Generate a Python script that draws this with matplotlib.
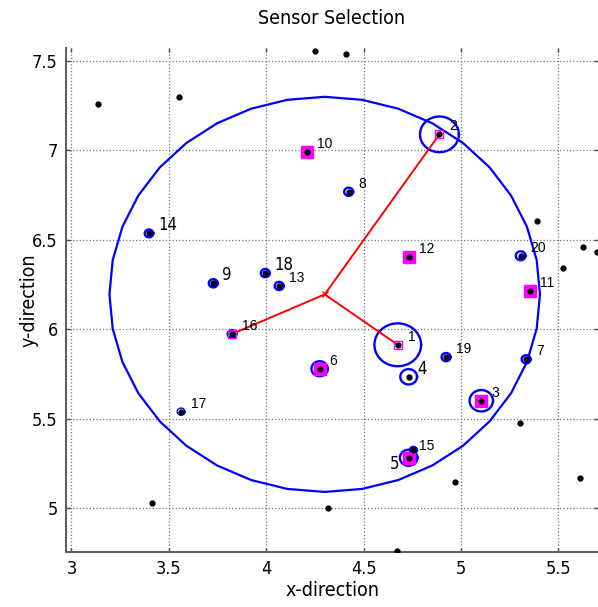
import numpy as np
import matplotlib
matplotlib.use("Agg")
import matplotlib.pyplot as plt
from matplotlib import font_manager

# ---------------- data ----------------
sensor_ids = [str(i) for i in range(1, 21)]
sensor_x = [4.675, 4.889, 5.104, 4.731, 4.731, 4.274, 5.334, 4.423, 3.728, 4.211,
            5.356, 4.731, 4.066, 3.398, 4.755, 3.824, 3.563, 3.995, 4.923, 5.306]
sensor_y = [5.913, 7.090, 5.600, 5.734, 5.281, 5.779, 5.832, 6.769, 6.257, 6.993,
            6.215, 6.404, 6.242, 6.536, 5.324, 5.973, 5.539, 6.314, 5.844, 6.411]
sensor_r = [0.120, 0.100, 0.060, 0.043, 0.045, 0.042, 0.023, 0.023, 0.023, 0.020,
            0.020, 0.020, 0.023, 0.022, 0.018, 0.022, 0.020, 0.023, 0.023, 0.025]
filled_sel = ['3', '5', '6', '10', '11', '12']
linked_sel = ['1', '2', '16']

extra_x = [3.137, 3.552, 4.250, 4.411, 5.390, 5.628, 5.524, 5.700, 5.301, 4.969, 5.612, 4.673, 3.414, 4.316]
extra_y = [7.258, 7.299, 7.558, 7.537, 6.603, 6.458, 6.344, 6.430, 5.475, 5.145, 5.168, 4.761, 5.028, 5.000]

center_x, center_y, center_r = 4.300, 6.195, 1.105

x_ticks = [3, 3.5, 4, 4.5, 5, 5.5]
x_ticklabels = ['3', '3.5', '4', '4.5', '5', '5.5']
y_ticks = [5, 5.5, 6, 6.5, 7, 7.5]
y_ticklabels = ['5', '5.5', '6', '6.5', '7', '7.5']

# --------------- fonts ----------------
avail = {f.name for f in font_manager.fontManager.ttflist}
if 'Liberation Sans Narrow' in avail:
    NARROW = dict(family='Liberation Sans Narrow')
else:
    NARROW = dict(family='DejaVu Sans', stretch='condensed')
PLAIN = dict(family=['Liberation Sans', 'DejaVu Sans'])

fig = plt.figure(figsize=(5.98, 6.07), dpi=100)
ax = fig.add_axes([66 / 598, 55 / 607, 1 - 66 / 598, (552 - 48) / 607])
ax.set_xlim(2.972, 5.703)
ax.set_ylim(4.754, 7.573)

t = np.linspace(0, 2 * np.pi, 37)

def ring(cx, cy, r, **kw):
    ax.plot(cx + r * np.cos(t), cy + r * np.sin(t), **kw)

# big circle
ring(center_x, center_y, center_r, color='#0000ff', lw=1.6, zorder=3)

# sensor circles
for sid, x, y, r in zip(sensor_ids, sensor_x, sensor_y, sensor_r):
    lw = 1.0 if sid == '17' else 1.7
    ring(x, y, r, color='#0000ff', lw=lw, zorder=3)

# red links
for sid in linked_sel:
    i = sensor_ids.index(sid)
    ax.plot([center_x, sensor_x[i]], [center_y, sensor_y[i]], color='#ff0000', lw=1.4, zorder=4)
ax.plot([center_x], [center_y], marker='x', color='#ff0000', ms=5, mew=1, zorder=5)

# magenta squares
for sid in filled_sel:
    i = sensor_ids.index(sid)
    ax.plot(sensor_x[i], sensor_y[i], marker='s', ms=9, mfc='#ff00ff', mec='#ff00ff', zorder=4)
for sid in linked_sel:
    i = sensor_ids.index(sid)
    ax.plot(sensor_x[i], sensor_y[i], marker='s', ms=6, mfc='none', mec='#ff00ff', mew=1, zorder=4)

# black dots
ax.plot(sensor_x, sensor_y, 'o', color='k', ms=3.5, zorder=6, linestyle='none')
ax.plot(extra_x, extra_y, 'o', color='k', ms=3.5, zorder=6, linestyle='none')

# labels
narrow_ids = {'4', '5', '9', '14', '18'}
offsets = {'5': (-18, -6), '15': (6, 4)}
for sid, x, y in zip(sensor_ids, sensor_x, sensor_y):
    dx, dy = offsets.get(sid, (10, 8))
    if sid in narrow_ids:
        ax.annotate(sid, (x, y), xytext=(dx - 1, dy), textcoords='offset pixels',
                    fontsize=12, va='center', ha='left', zorder=7, **NARROW)
    else:
        ax.annotate(sid, (x, y), xytext=(dx, dy), textcoords='offset pixels',
                    fontsize=10, va='center', ha='left', zorder=7, **PLAIN)

# axes styling
ax.set_xticks(x_ticks)
ax.set_xticklabels(x_ticklabels, fontsize=13, **NARROW)
ax.set_yticks(y_ticks)
ax.set_yticklabels(y_ticklabels, fontsize=13, **NARROW)
ax.tick_params(direction='in', length=3, width=1, top=True, right=True, color='0.3', pad=6)
ax.grid(True, color='0.45', linestyle=':', lw=0.9)
ax.set_axisbelow(True)
for s in ['top', 'right']:
    ax.spines[s].set_visible(False)
for s in ['left', 'bottom']:
    ax.spines[s].set_color('0.35')
    ax.spines[s].set_linewidth(1.4)

ax.set_title('Sensor Selection', fontsize=14, pad=17, **NARROW)
ax.set_xlabel('x-direction', fontsize=14, **NARROW)
ax.set_ylabel('y-direction', fontsize=14, **NARROW)
ax.xaxis.set_label_coords(0.5, -0.058)
ax.yaxis.set_label_coords(-0.052, 0.5)

fig.savefig('out.png', dpi=100)
